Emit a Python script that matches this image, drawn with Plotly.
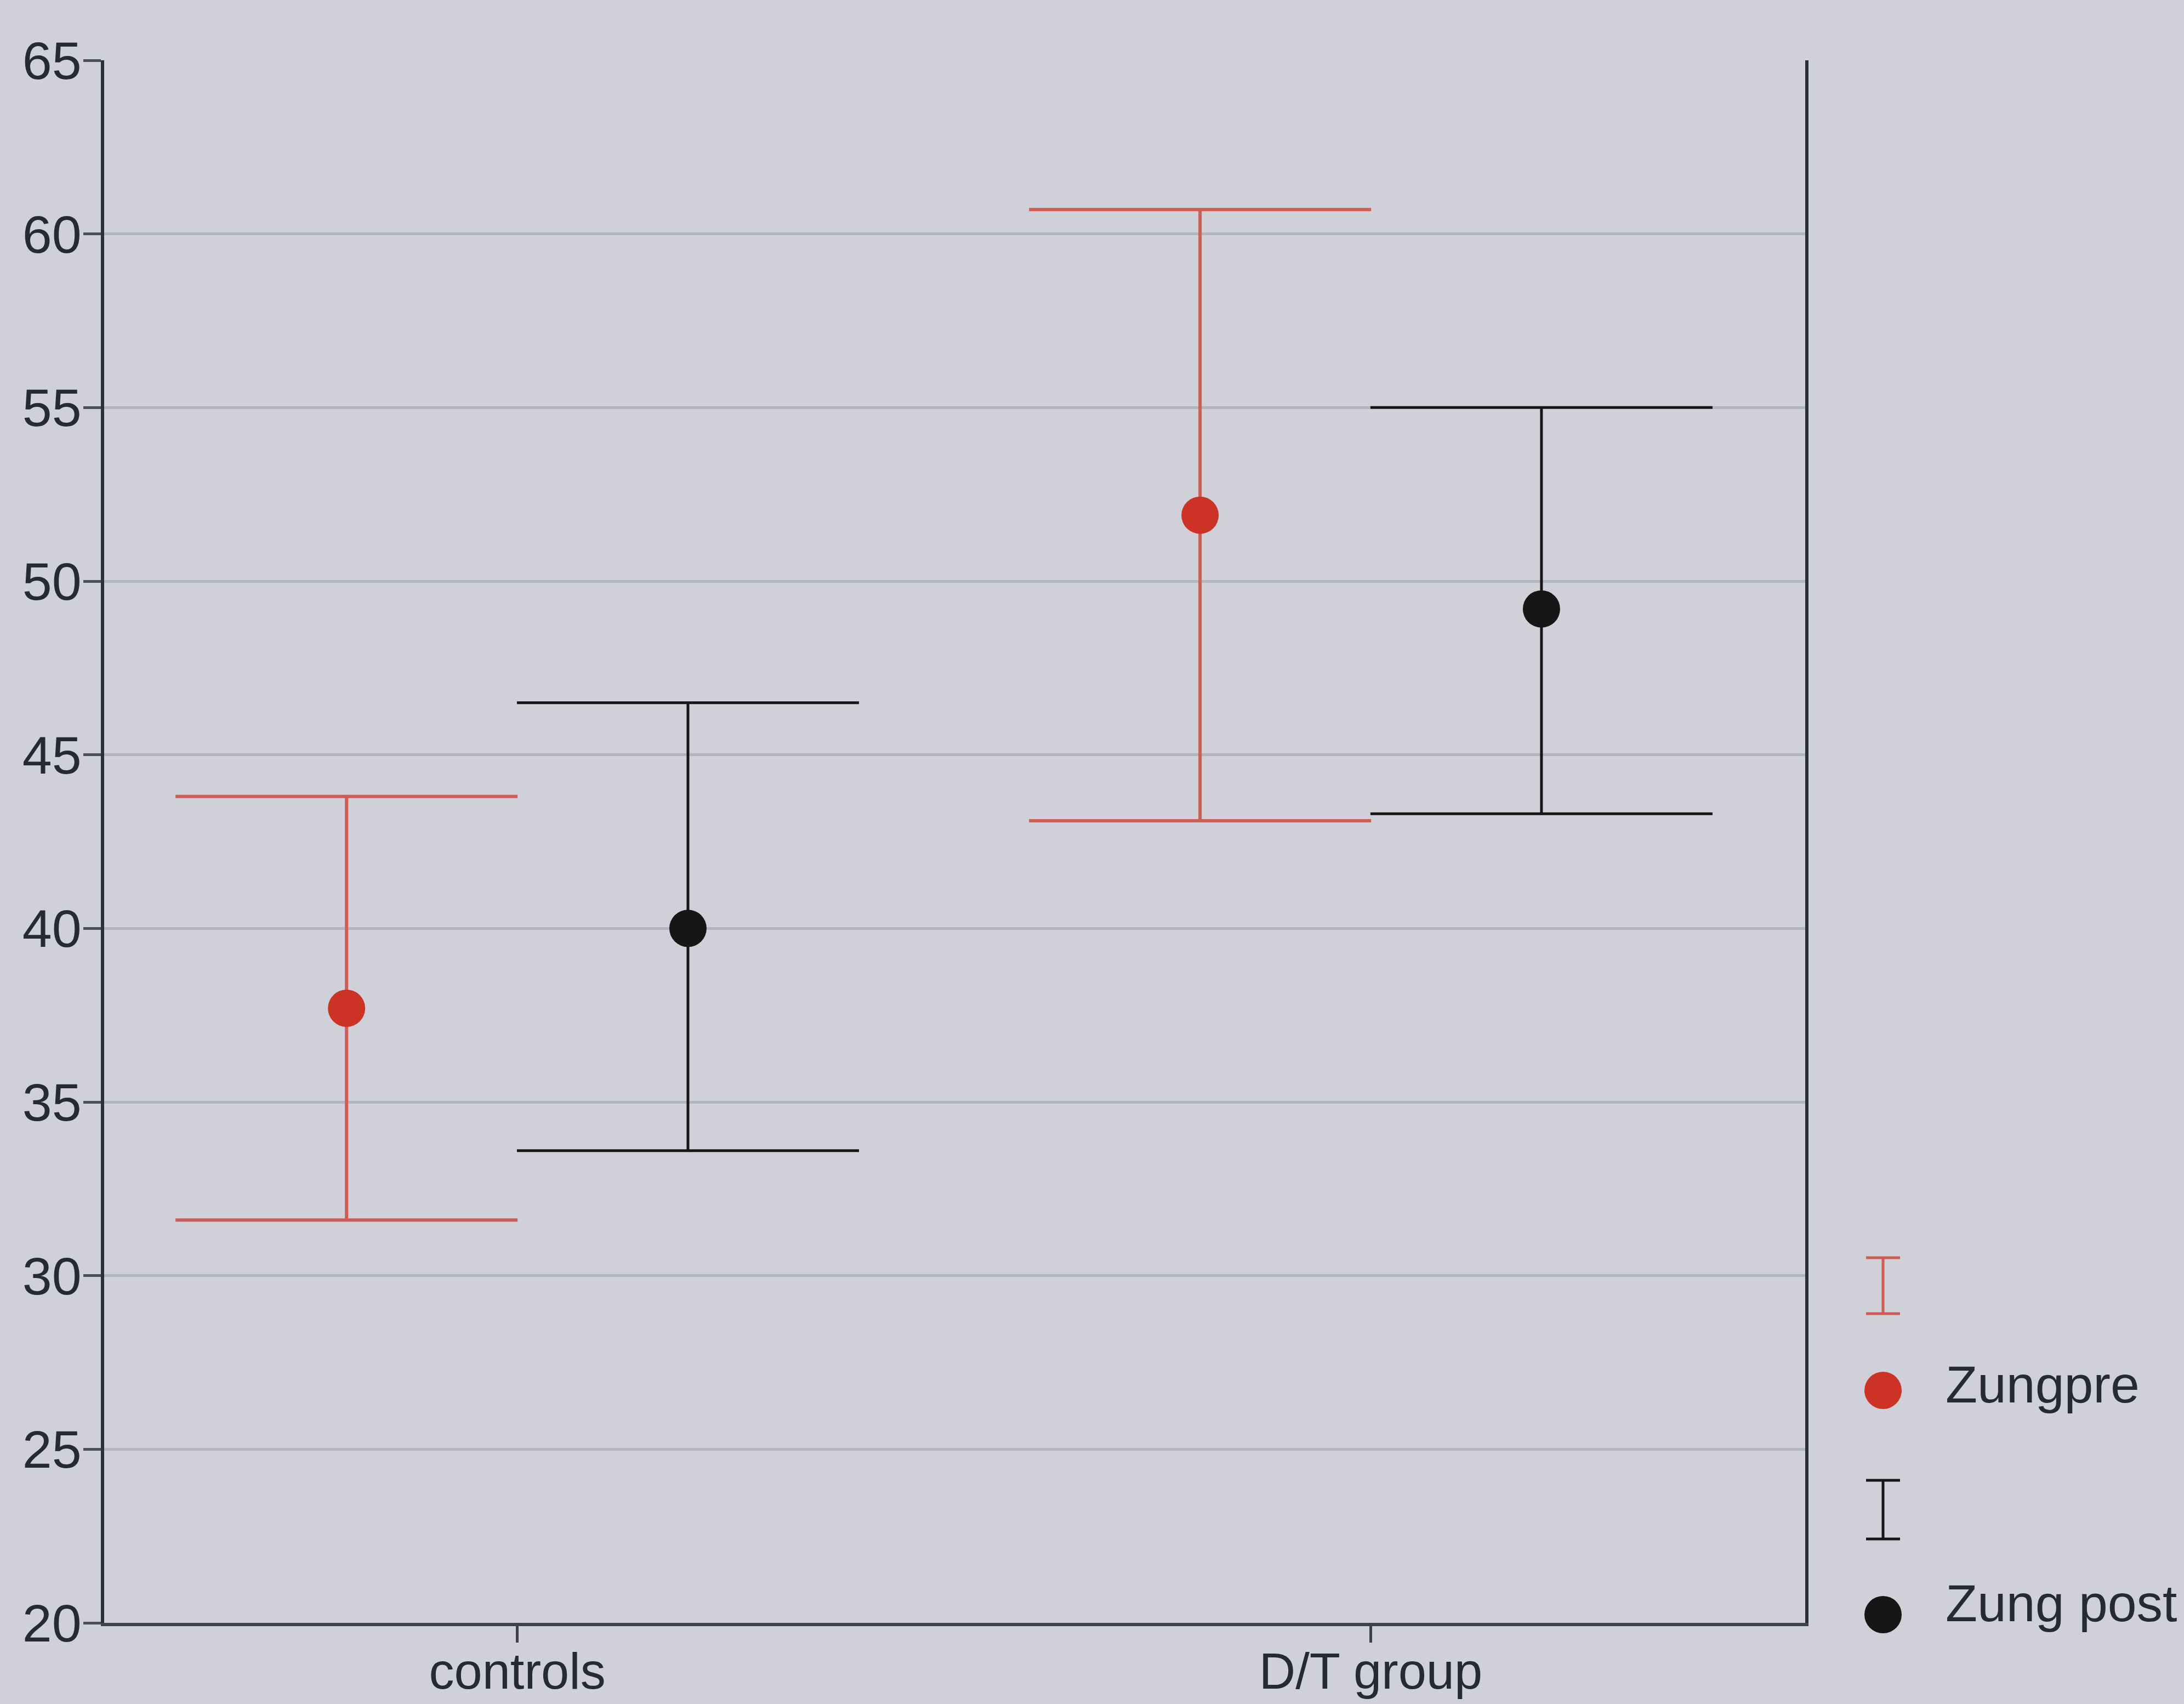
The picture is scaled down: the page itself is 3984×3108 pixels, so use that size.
import plotly.graph_objects as go

# Group labels and Zung depression scores (mean with interval bounds)
groups = ["controls", "D/T group"]

pre_mean = [37.7, 51.9]
pre_upper = [43.8, 60.7]
pre_lower = [31.6, 43.1]

post_mean = [40.0, 49.2]
post_upper = [46.5, 55.0]
post_lower = [33.6, 43.3]

y_ticks = [20, 25, 30, 35, 40, 45, 50, 55, 60, 65]

W, H = 3984, 3108
L, R, T, B = 190, 691, 110, 148
PW, PH = W - L - R, H - T - B

BG = "#cfd0d8"
RED_DOT = "#cc3324"
RED_BAR = "#cf5d55"
BLACK = "#161616"
FONT = "Liberation Sans, Arial, sans-serif"
TEXT = "#262a33"


def px_x(x):
    return (x - L) / PW


def px_y(y):
    return (H - B - y) / PH


fig = go.Figure()

series = [
    ("Zungpre", -0.2, pre_mean, pre_upper, pre_lower, RED_DOT, RED_BAR, 6),
    ("Zung post", 0.2, post_mean, post_upper, post_lower, BLACK, BLACK, 5),
]
for name, off, mean, up, lo, mcol, bcol, bw in series:
    fig.add_trace(go.Scatter(
        x=[i + off for i in range(len(groups))],
        y=mean,
        mode="markers",
        name=name,
        showlegend=False,
        marker=dict(size=68, color=mcol, symbol="circle", line=dict(width=0)),
        error_y=dict(
            type="data",
            symmetric=False,
            array=[u - m for u, m in zip(up, mean)],
            arrayminus=[m - l for m, l in zip(mean, lo)],
            color=bcol,
            thickness=bw,
            width=312,
        ),
    ))

fig.update_layout(
    width=W,
    height=H,
    margin=dict(l=L, r=R, t=T, b=B, pad=0),
    paper_bgcolor=BG,
    plot_bgcolor=BG,
    font=dict(family=FONT, size=93, color=TEXT),
    xaxis=dict(
        range=[-0.484, 1.509],
        tickmode="array",
        tickvals=list(range(len(groups))),
        ticktext=groups,
        showgrid=False,
        zeroline=False,
        showline=True,
        linecolor="#3c414c",
        linewidth=6,
        ticks="outside",
        ticklen=30,
        tickwidth=5,
        tickcolor="#3c414c",
        ticklabelstandoff=-26,
        tickfont=dict(size=92, family=FONT, color=TEXT),
        automargin=False,
    ),
    yaxis=dict(
        range=[20, 65],
        tickmode="array",
        tickvals=y_ticks,
        showgrid=True,
        gridcolor="#b3b5bd",
        gridwidth=5,
        zeroline=False,
        showline=True,
        mirror=True,
        linecolor="#2b303b",
        linewidth=6,
        ticks="outside",
        ticklen=32,
        tickwidth=5,
        tickcolor="#4a4f5a",
        ticklabelstandoff=-16,
        tickfont=dict(size=97, family=FONT, color=TEXT),
        automargin=False,
    ),
)

# Legend drawn at the right: error-bar glyph above each marker entry
legend_rows = [
    (2294, 2396, 2536, "Zungpre", RED_BAR, RED_DOT, 2525),
    (2700, 2807, 2945, "Zung post", BLACK, BLACK, 2924),
]
cx, half_cap, dot_r = 3435, 31, 34
for top, bot, dot_y, label, bar_col, dot_col, text_y in legend_rows:
    line = dict(color=bar_col, width=5)
    fig.add_shape(type="line", xref="paper", yref="paper",
                  x0=px_x(cx), x1=px_x(cx), y0=px_y(top), y1=px_y(bot), line=line)
    for yy in (top, bot):
        fig.add_shape(type="line", xref="paper", yref="paper",
                      x0=px_x(cx - half_cap), x1=px_x(cx + half_cap),
                      y0=px_y(yy), y1=px_y(yy), line=line)
    fig.add_shape(type="circle", xref="paper", yref="paper",
                  x0=px_x(cx - dot_r), x1=px_x(cx + dot_r),
                  y0=px_y(dot_y + dot_r), y1=px_y(dot_y - dot_r),
                  fillcolor=dot_col, line=dict(width=0))
    fig.add_annotation(xref="paper", yref="paper", x=px_x(3547), y=px_y(text_y),
                       xanchor="left", yanchor="middle", showarrow=False,
                       text=label, font=dict(size=95, family=FONT, color=TEXT))

fig.write_html("out.html")
